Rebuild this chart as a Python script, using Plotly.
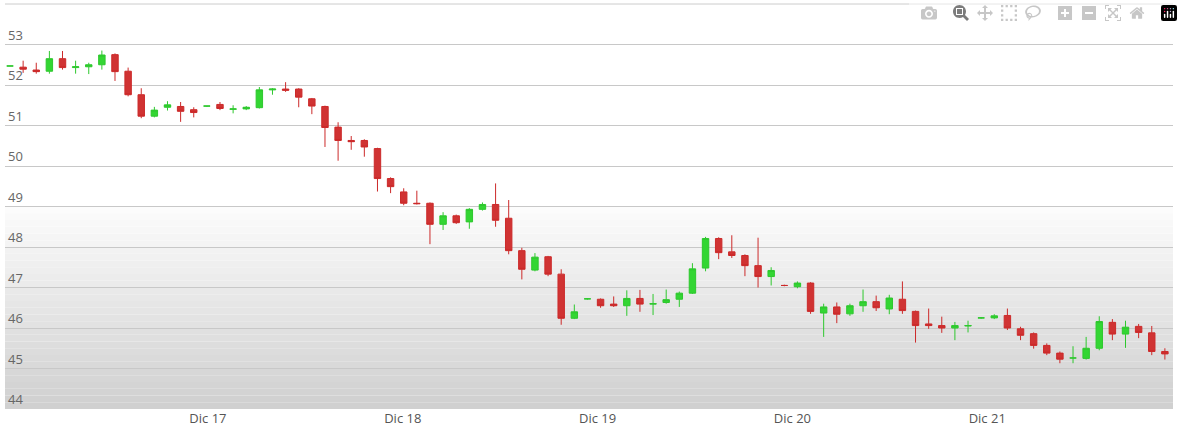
import pandas as pd
import plotly.graph_objects as go

# candles (one every ~97 min)
opens = [52.47, 52.44, 52.37, 52.34, 52.65, 52.43, 52.45, 52.50, 52.75, 52.34,
         51.76, 51.23, 51.45, 51.47, 51.39, 51.48, 51.52, 51.40, 51.41, 51.44,
         51.88, 51.90, 51.90, 51.66, 51.47, 50.96, 50.63, 50.63, 50.43, 49.69,
         49.36, 49.08, 49.08, 48.56, 48.77, 48.62, 48.93, 49.05, 48.71, 47.91,
         47.43, 47.76, 47.33, 46.24, 46.72, 46.71, 46.59, 46.55, 46.73, 46.59,
         46.63, 46.71, 46.86, 47.48, 48.21, 47.88, 47.79, 47.54, 47.27, 47.05,
         47.02, 47.11, 46.37, 46.52, 46.35, 46.55, 46.65, 46.47, 46.71, 46.41,
         46.10, 46.06, 46.00, 46.05, 46.25, 46.25, 46.31, 45.98, 45.86, 45.57,
         45.38, 45.26, 45.25, 45.50, 46.14, 45.85, 46.04, 45.88, 45.42]
closes = [52.47, 52.39, 52.33, 52.65, 52.43, 52.45, 52.50, 52.74, 52.33, 51.76,
          51.23, 51.38, 51.51, 51.35, 51.32, 51.48, 51.42, 51.41, 51.45, 51.88,
          51.90, 51.87, 51.70, 51.48, 50.95, 50.63, 50.60, 50.47, 49.69, 49.49,
          49.08, 49.07, 48.56, 48.77, 48.60, 48.93, 49.05, 48.66, 47.91, 47.45,
          47.75, 47.33, 46.24, 46.40, 46.72, 46.55, 46.55, 46.73, 46.59, 46.60,
          46.70, 46.86, 47.46, 48.21, 47.86, 47.79, 47.54, 47.27, 47.42, 47.05,
          47.11, 46.41, 46.52, 46.34, 46.55, 46.65, 46.50, 46.74, 46.43, 46.06,
          46.06, 46.00, 46.06, 46.06, 46.25, 46.30, 46.00, 45.82, 45.57, 45.38,
          45.23, 45.26, 45.50, 46.16, 45.85, 46.02, 45.89, 45.42, 45.36]
highs = [52.47, 52.60, 52.55, 52.84, 52.84, 52.60, 52.55, 52.85, 52.78, 52.43,
         51.92, 51.46, 51.60, 51.58, 51.45, 51.48, 51.58, 51.50, 51.48, 51.95,
         51.92, 52.07, 51.92, 51.68, 51.49, 51.08, 50.74, 50.66, 50.45, 49.72,
         49.45, 49.39, 49.10, 48.86, 48.80, 48.96, 49.10, 49.57, 49.16, 47.98,
         47.85, 47.78, 47.45, 46.58, 46.74, 46.73, 46.78, 46.93, 46.94, 46.84,
         46.95, 46.90, 47.60, 48.25, 48.24, 48.29, 47.82, 48.23, 47.50, 47.07,
         47.15, 47.13, 46.60, 46.63, 46.60, 46.95, 46.80, 46.82, 47.15, 46.43,
         46.48, 46.28, 46.15, 46.18, 46.27, 46.34, 46.48, 46.03, 45.89, 45.62,
         45.42, 45.55, 45.78, 46.29, 46.22, 46.18, 46.10, 46.05, 45.50]
lows = [52.47, 52.30, 52.28, 52.28, 52.38, 52.28, 52.27, 52.38, 52.10, 51.72,
        51.18, 51.20, 51.37, 51.09, 51.20, 51.46, 51.38, 51.30, 51.38, 51.42,
        51.76, 51.83, 51.45, 51.28, 50.47, 50.13, 50.40, 50.23, 49.37, 49.33,
        49.03, 49.05, 48.07, 48.42, 48.57, 48.45, 48.90, 48.50, 47.82, 47.20,
        47.40, 47.28, 46.08, 46.22, 46.70, 46.50, 46.52, 46.30, 46.40, 46.32,
        46.60, 46.52, 46.84, 47.40, 47.70, 47.73, 47.28, 47.00, 47.05, 47.03,
        46.98, 46.35, 45.78, 46.12, 46.30, 46.40, 46.42, 46.34, 46.35, 45.64,
        45.98, 45.88, 45.70, 45.89, 46.23, 46.22, 45.95, 45.70, 45.49, 45.33,
        45.13, 45.13, 45.22, 45.45, 45.70, 45.51, 45.75, 45.33, 45.22]

times = pd.date_range("2017-12-15 23:37", periods=len(opens), freq="97min")
y_ticks = [44, 45, 46, 47, 48, 49, 50, 51, 52, 53]
x_ticks = ["2017-12-17", "2017-12-18", "2017-12-19", "2017-12-20", "2017-12-21"]
x_labels = ["Dic 17", "Dic 18", "Dic 19", "Dic 20", "Dic 21"]

fig = go.Figure()
fig.add_trace(go.Candlestick(
    x=times, open=opens, high=highs, low=lows, close=closes,
    increasing=dict(line=dict(color="#2ec82e", width=1), fillcolor="#33d633"),
    decreasing=dict(line=dict(color="#cc2a2a", width=1), fillcolor="#d03333"),
    whiskerwidth=0, showlegend=False,
))

# background: white on top, grey gradient on the lower half
shapes = []
n = 30
for k in range(n):
    y0 = 0.5 * k / n
    y1 = 0.5 * (k + 1) / n
    g = int(208 + (252 - 208) * (k / (n - 1)))
    shapes.append(dict(type="rect", xref="paper", yref="paper", x0=0, x1=1,
                       y0=y0, y1=y1, layer="below", line_width=0,
                       fillcolor=f"rgb({g},{g},{g})"))
shapes.append(dict(type="line", xref="paper", yref="paper", x0=0, x1=1,
                   y0=1, y1=1, line=dict(color="#cccccc", width=1)))

fig.update_layout(
    width=1183, height=438,
    margin=dict(l=5, r=10, t=4, b=29),
    paper_bgcolor="white", plot_bgcolor="white",
    font=dict(family="Open Sans", color="#555555", size=13),
    shapes=shapes,
    xaxis=dict(
        rangeslider=dict(visible=False),
        range=[times[0] - pd.Timedelta(minutes=37), times[-1] + pd.Timedelta(minutes=60)],
        tickvals=x_ticks, ticktext=x_labels, showgrid=False, zeroline=False,
        ticks="", showline=False,
    ),
    yaxis=dict(
        range=[44, 54], tickvals=y_ticks, ticklabelposition="inside top",
        gridcolor="#c8c8c8", zeroline=False, showline=False,
        tickfont=dict(size=13, color="#666666"),
    ),
)

fig.write_html("out.html", post_script="document.body.style.margin='0';")
